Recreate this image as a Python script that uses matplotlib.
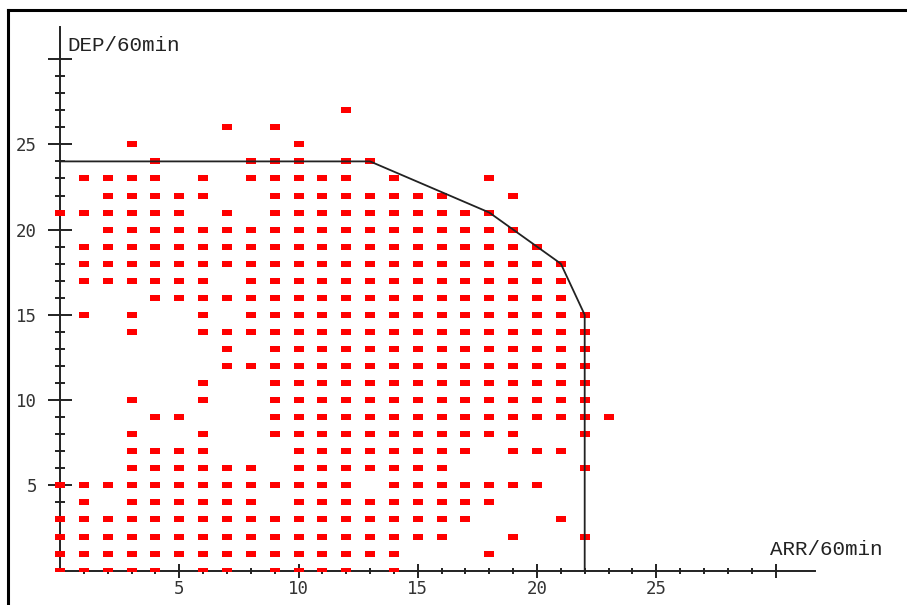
import matplotlib
matplotlib.use("Agg")
import matplotlib.pyplot as plt
from matplotlib.lines import Line2D
from matplotlib.patches import Rectangle
import numpy as np

# observed (ARR, DEP) pairs, one row of DEP at a time
dep_levels = [27, 26, 25, 24, 23, 22, 21, 20, 19, 18, 17, 16, 15, 14,
              13, 12, 11, 10, 9, 8, 7, 6, 5, 4, 3, 2, 1, 0]
arr_lists = [
    [12],
    [7, 9],
    [3, 10],
    [4, 8, 9, 10, 12, 13],
    [1, 2, 3, 4, 6, 8, 9, 10, 11, 12, 14, 18],
    [2, 3, 4, 5, 6, 9, 10, 11, 12, 13, 14, 15, 16, 19],
    [0, 1, 2, 3, 4, 5, 7, 9, 10, 11, 12, 13, 14, 15, 16, 17, 18],
    [2, 3, 4, 5, 6, 7, 8, 9, 10, 11, 12, 13, 14, 15, 16, 17, 18, 19],
    [1, 2, 3, 4, 5, 6, 7, 8, 9, 10, 11, 12, 13, 14, 15, 16, 17, 18, 19, 20],
    [1, 2, 3, 4, 5, 6, 7, 8, 9, 10, 11, 12, 13, 14, 15, 16, 17, 18, 19, 20, 21],
    [1, 2, 3, 4, 5, 6, 8, 9, 10, 11, 12, 13, 14, 15, 16, 17, 18, 19, 20, 21],
    [4, 5, 6, 7, 8, 9, 10, 11, 12, 13, 14, 15, 16, 17, 18, 19, 20, 21],
    [1, 3, 6, 8, 9, 10, 11, 12, 13, 14, 15, 16, 17, 18, 19, 20, 21, 22],
    [3, 6, 7, 8, 9, 10, 11, 12, 13, 14, 15, 16, 17, 18, 19, 20, 21, 22],
    [7, 9, 10, 11, 12, 13, 14, 15, 16, 17, 18, 19, 20, 21, 22],
    [7, 8, 9, 10, 11, 12, 13, 14, 15, 16, 17, 18, 19, 20, 21, 22],
    [6, 9, 10, 11, 12, 13, 14, 15, 16, 17, 18, 19, 20, 21, 22],
    [3, 6, 9, 10, 11, 12, 13, 14, 15, 16, 17, 18, 19, 20, 21, 22],
    [4, 5, 9, 10, 11, 12, 13, 14, 15, 16, 17, 18, 19, 20, 21, 22, 23],
    [3, 6, 9, 10, 11, 12, 13, 14, 15, 16, 17, 18, 19, 22],
    [3, 4, 5, 6, 10, 11, 12, 13, 14, 15, 16, 17, 19, 20, 21],
    [3, 4, 5, 6, 7, 8, 10, 11, 12, 13, 14, 15, 16, 22],
    [0, 1, 2, 3, 4, 5, 6, 7, 8, 9, 10, 11, 12, 14, 15, 16, 17, 18, 19, 20],
    [1, 3, 4, 5, 6, 7, 8, 10, 11, 12, 13, 14, 15, 16, 17, 18],
    [0, 1, 2, 3, 4, 5, 6, 7, 8, 9, 10, 11, 12, 13, 14, 15, 16, 17, 21],
    [0, 1, 2, 3, 4, 5, 6, 7, 8, 9, 10, 11, 12, 13, 14, 15, 16, 19, 22],
    [0, 1, 2, 3, 4, 5, 6, 7, 8, 9, 10, 11, 12, 13, 14, 18],
    [0, 1, 2, 3, 4, 6, 7, 9, 10, 11, 12, 14],
]

# capacity envelope
bound_arr = [0, 13, 18, 21, 22, 22]
bound_dep = [24, 24, 21, 18, 15, 0]

tick_vals = [5, 10, 15, 20, 25]
tick_labels = ["5", "10", "15", "20", "25"]

arr = []
dep = []
for d, row in zip(dep_levels, arr_lists):
    arr.extend(row)
    dep.extend([d] * len(row))

fig = plt.figure(figsize=(9.07, 6.05), dpi=100)
ax = fig.add_axes([0, 0, 1, 1])
ax.set_xlim(-60 / 23.85, (907 - 60) / 23.85)
ax.set_ylim((570.6 - 605) / 17.05, 570.6 / 17.05)

# rectangular red markers (wider than tall), cut off below the ARR axis
rect = [(-1, -0.6), (1, -0.6), (1, 0.6), (-1, 0.6), (-1, -0.6)]
pts, = ax.plot(arr, dep, linestyle="none", marker=rect, markersize=7.3,
               markeredgewidth=0, color="#ff0000", zorder=2)
clip = Rectangle((-5, 0), 50, 50, transform=ax.transData, visible=False)
ax.add_patch(clip)
pts.set_clip_path(clip)

ax.plot(bound_arr, bound_dep, color="#222222", lw=1.3, zorder=3)

# axes through the origin
for s in ["top", "right"]:
    ax.spines[s].set_visible(False)
ax.spines["left"].set_position(("data", 0))
ax.spines["bottom"].set_position(("data", 0))
ax.spines["left"].set_bounds(0, 31.9)
ax.spines["bottom"].set_bounds(0, 31.65)
for s in ["left", "bottom"]:
    ax.spines[s].set_linewidth(1.4)
    ax.spines[s].set_color("#222222")
    ax.spines[s].set_zorder(1)

ax.set_xticks(tick_vals + [30])
ax.set_xticklabels(tick_labels + [""])
ax.set_yticks(tick_vals + [30])
ax.set_yticklabels(tick_labels + [""])
ax.set_xticks(np.arange(1, 31), minor=True)
ax.set_yticks(np.arange(1, 31), minor=True)

ax.tick_params(axis="x", which="major", direction="inout", length=10, width=1.4,
               color="#222222", pad=2, labelsize=12.5, labelcolor="#333333")
ax.tick_params(axis="x", which="minor", direction="inout", length=4.5, width=1.4,
               color="#222222")
ax.tick_params(axis="y", which="major", direction="inout", length=17, width=1.4,
               color="#222222", pad=8, labelsize=12.5, labelcolor="#333333")
ax.tick_params(axis="y", which="minor", direction="inout", length=7.5, width=1.4,
               color="#222222")
for lab in ax.get_xticklabels() + ax.get_yticklabels():
    lab.set_family("DejaVu Sans Mono")

ax.text(0.3, 30.5, "DEP/60min", family="Liberation Mono", fontsize=15,
        color="#222222", va="baseline", ha="left")
ax.text(29.75, 0.9, "ARR/60min", family="Liberation Mono", fontsize=15,
        color="#222222", va="baseline", ha="left")

# frame around the picture (top and left edges visible)
fig.add_artist(Line2D([8 / 907, 1], [1 - 10 / 605, 1 - 10 / 605],
                      transform=fig.transFigure, color="black", lw=2.2))
fig.add_artist(Line2D([8 / 907, 8 / 907], [0, 1 - 10 / 605],
                      transform=fig.transFigure, color="black", lw=2.2))

plt.savefig("out.png", dpi=100)
